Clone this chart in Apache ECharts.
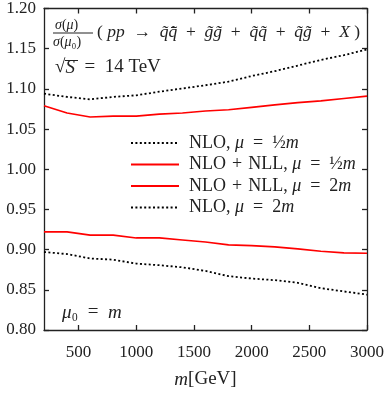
<!DOCTYPE html>
<html>
<head>
<meta charset="UTF-8">
<title>Scale dependence</title>
<script src="https://cdn.jsdelivr.net/npm/echarts@6/dist/echarts.min.js"></script>
<style>
    html, body { margin: 0; padding: 0; background: #fff; }
    #chart { width: 387px; height: 394px; }
</style>
</head>
<body>
<div id="chart"></div>
<script>
    // squark/gluino masses in GeV
    const masses = [200, 400, 600, 800, 1000, 1200, 1400, 1600, 1800, 2000, 2200, 2400, 2600, 2800, 3000];

    const nloHalf  = [1.094, 1.090, 1.087, 1.090, 1.092, 1.0965, 1.1005, 1.1045, 1.109, 1.116, 1.122, 1.129, 1.136, 1.142, 1.149];
    const nllHalf  = [1.079, 1.070, 1.065, 1.066, 1.066, 1.0685, 1.070, 1.0725, 1.074, 1.077, 1.080, 1.083, 1.085, 1.088, 1.091];
    const nllTwo   = [0.922, 0.922, 0.918, 0.918, 0.9145, 0.9145, 0.912, 0.9095, 0.906, 0.905, 0.9035, 0.901, 0.898, 0.896, 0.8955];
    const nloTwo   = [0.897, 0.8945, 0.889, 0.8875, 0.8826, 0.8806, 0.878, 0.8735, 0.867, 0.864, 0.862, 0.8587, 0.852, 0.848, 0.844];

    const xTicks = [500, 1000, 1500, 2000, 2500, 3000];

    const seriesNames = ['NLO, half', 'NLO + NLL, half', 'NLO + NLL, two', 'NLO, two'];
    const sp = '\u2002';
    const sm = '\u2004';
    const legendTexts = {
        'NLO, half': 'NLO, {i|μ}' + sp + '=' + sp + '½{i|m}',
        'NLO + NLL, half': 'NLO' + sm + '+' + sm + 'NLL, {i|μ}' + sp + '=' + sp + '½{i|m}',
        'NLO + NLL, two': 'NLO' + sm + '+' + sm + 'NLL, {i|μ}' + sp + '=' + sp + '2{i|m}',
        'NLO, two': 'NLO, {i|μ}' + sp + '=' + sp + '2{i|m}'
    };

    const serif = '"Liberation Serif", "DejaVu Serif", serif';
    const ink = '#222';

    function pairs(ys) {
        return masses.map((m, i) => [m, ys[i]]);
    }

    const dotted = { color: '#000', width: 1.8, type: [2, 2.4] };
    const solid = { color: '#ff0000', width: 1.7, type: 'solid' };

    function makeSeries(name, ys, style) {
        return {
            name: name,
            type: 'line',
            data: pairs(ys),
            showSymbol: false,
            symbol: 'none',
            color: style.color,
            lineStyle: style,
            animation: false
        };
    }

    const italic = size => ({ i: { fontStyle: 'italic', fontFamily: serif, fontSize: size, color: ink, fill: ink } });

    const chart = echarts.init(document.getElementById('chart'));

    const axisLine = { show: true, lineStyle: { color: '#222', width: 1.3 } };
    const tickLine = { color: '#222', width: 1.3 };

    chart.setOption({
        animation: false,
        grid: { left: 44, right: 17, top: 5, bottom: 55 },
        xAxis: [
            {
                type: 'value', min: 200, max: 3000, position: 'bottom',
                name: '{i|m}[GeV]', nameLocation: 'middle', nameGap: 40,
                nameTextStyle: { fontFamily: serif, fontSize: 19, color: ink, rich: italic(19) },
                axisLine: axisLine,
                axisTick: { show: true, inside: true, length: 5, customValues: xTicks, lineStyle: tickLine },
                axisLabel: {
                    customValues: xTicks, fontFamily: serif, fontSize: 17, color: ink, margin: 14,
                    formatter: v => String(v)
                },
                splitLine: { show: false }
            },
            {
                type: 'value', min: 200, max: 3000, position: 'top',
                axisLine: axisLine,
                axisTick: { show: true, inside: true, length: 5, customValues: xTicks, lineStyle: tickLine },
                axisLabel: { show: false },
                splitLine: { show: false }
            }
        ],
        yAxis: [
            {
                type: 'value', min: 0.8, max: 1.2, interval: 0.05, position: 'left',
                axisLine: axisLine,
                axisTick: { show: true, inside: true, length: 5, lineStyle: tickLine },
                axisLabel: {
                    fontFamily: serif, fontSize: 17, color: ink, margin: 8,
                    formatter: v => v.toFixed(2)
                },
                splitLine: { show: false }
            },
            {
                type: 'value', min: 0.8, max: 1.2, interval: 0.05, position: 'right',
                axisLine: axisLine,
                axisTick: { show: true, inside: true, length: 5, lineStyle: tickLine },
                axisLabel: { show: false },
                splitLine: { show: false }
            }
        ],
        legend: {
            orient: 'vertical',
            left: 130,
            top: 134,
            padding: 0,
            itemWidth: 48,
            itemHeight: 14,
            itemGap: 3.5,
            itemStyle: { opacity: 0 },
            data: seriesNames,
            formatter: name => legendTexts[name],
            textStyle: {
                fontFamily: serif, fontSize: 18, color: ink, padding: [0, 0, 0, 5],
                rich: italic(18)
            }
        },
        graphic: [
            {
                type: 'text', left: 55, top: 18,
                style: { text: '{i|σ}({i|μ})', font: '14px ' + serif, fill: ink, rich: italic(14) }
            },
            {
                type: 'line', shape: { x1: 53, y1: 33, x2: 93, y2: 33 },
                style: { stroke: ink, lineWidth: 1 }
            },
            {
                type: 'text', left: 53, top: 35,
                style: { text: '{i|σ}({i|μ}₀)', font: '14px ' + serif, fill: ink, rich: italic(14) }
            },
            {
                type: 'text', left: 97, top: 23,
                style: {
                    text: '( {i|pp}' + sp + '→' + sp + '{i|q̃q̄̃}' + sp + '+' + sp + '{i|g̃g̃}' + sp + '+' + sp +
                          '{i|q̃q̃}' + sp + '+' + sp + '{i|q̃g̃}' + sp + '+' + sp + '{i|X} )',
                    font: '17.5px ' + serif, fill: ink, rich: italic(17.5)
                }
            },
            {
                type: 'text', left: 55, top: 58,
                style: { text: '√{i|S}' + sp + '=' + sp + '14 TeV', font: '19px ' + serif, fill: ink, rich: italic(19) }
            },
            {
                type: 'line', shape: { x1: 65, y1: 60.5, x2: 78, y2: 60.5 },
                style: { stroke: ink, lineWidth: 1 }
            },
            {
                type: 'text', left: 62, top: 303,
                style: { text: '{i|μ}₀' + sp + '=' + sp + '{i|m}', font: '19px ' + serif, fill: ink, rich: italic(19) }
            }
        ],
        series: [
            makeSeries(seriesNames[0], nloHalf, dotted),
            makeSeries(seriesNames[1], nllHalf, solid),
            makeSeries(seriesNames[2], nllTwo, solid),
            makeSeries(seriesNames[3], nloTwo, dotted)
        ]
    });
</script>
</body>
</html>
